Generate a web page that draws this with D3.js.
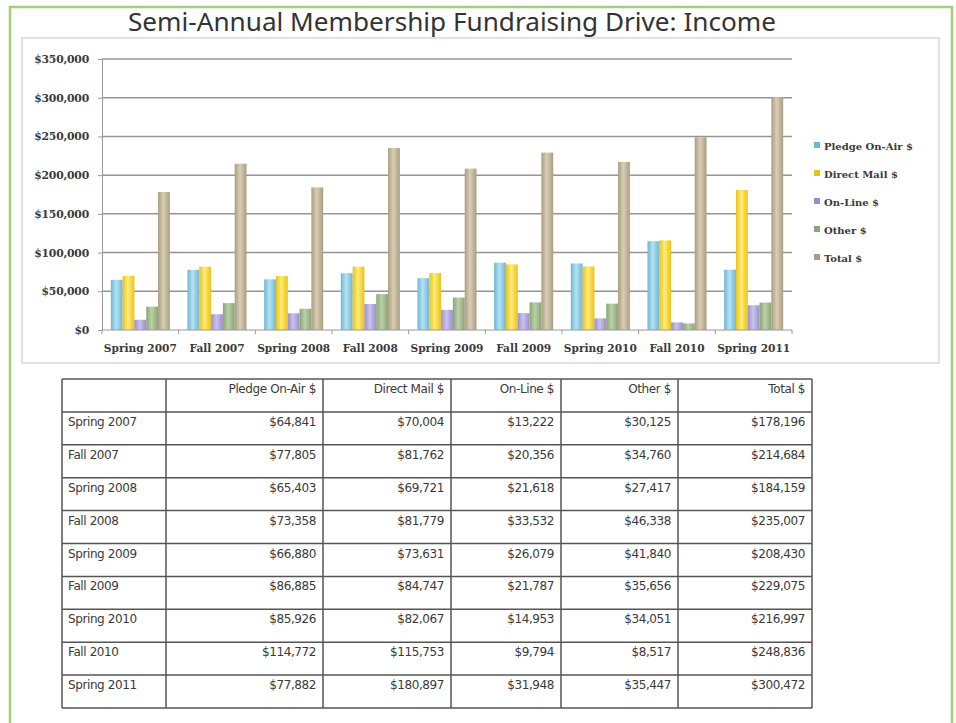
<!DOCTYPE html>
<html>
<head>
<meta charset="utf-8">
<script src="https://cdn.jsdelivr.net/npm/d3@7"></script>
<style>
  html, body { margin: 0; padding: 0; background: #fff; }
  svg { display: block; }
</style>
</head>
<body>
<div id="chart"></div>
<script>
const categories = ['Spring 2007', 'Fall 2007', 'Spring 2008', 'Fall 2008', 'Spring 2009',
  'Fall 2009', 'Spring 2010', 'Fall 2010', 'Spring 2011'];
const seriesNames = ['Pledge On-Air $', 'Direct Mail $', 'On-Line $', 'Other $', 'Total $'];
const pledgeOnAir = [64841, 77805, 65403, 73358, 66880, 86885, 85926, 114772, 77882];
const directMail = [70004, 81762, 69721, 81779, 73631, 84747, 82067, 115753, 180897];
const onLine = [13222, 20356, 21618, 33532, 26079, 21787, 14953, 9794, 31948];
const other = [30125, 34760, 27417, 46338, 41840, 35656, 34051, 8517, 35447];
const total = [178196, 214684, 184159, 235007, 208430, 229075, 216997, 248836, 300472];
const yTicks = [0, 50000, 100000, 150000, 200000, 250000, 300000, 350000];

const seriesValues = [pledgeOnAir, directMail, onLine, other, total];
const colors = [
  ['#b4e2f2', '#6db6d6'],
  ['#fcec78', '#ecc216'],
  ['#cac2ee', '#9a8fca'],
  ['#bccfa8', '#8aa576'],
  ['#d8ceb8', '#ab9d7e']
];

const width = 956, height = 723;
const svg = d3.select('#chart').append('svg')
  .attr('width', width)
  .attr('height', height);

const defs = svg.append('defs');
colors.forEach((c, i) => {
  const g = defs.append('linearGradient')
    .attr('id', 'grad' + i)
    .attr('x1', 0).attr('y1', 0).attr('x2', 1).attr('y2', 0);
  g.append('stop').attr('offset', '0%').attr('stop-color', c[1]);
  g.append('stop').attr('offset', '45%').attr('stop-color', c[0]);
  g.append('stop').attr('offset', '100%').attr('stop-color', c[1]);
});

// outer frame
svg.append('rect')
  .attr('x', 10).attr('y', 7)
  .attr('width', 942).attr('height', 730)
  .attr('fill', 'none')
  .attr('stroke', '#a3cf78')
  .attr('stroke-width', 2.5);

// chart area
svg.append('rect')
  .attr('x', 22).attr('y', 38)
  .attr('width', 917).attr('height', 325)
  .attr('fill', '#fff')
  .attr('stroke', '#cfcfcf')
  .attr('stroke-width', 1.2);

svg.append('text')
  .attr('x', 452).attr('y', 31)
  .attr('text-anchor', 'middle')
  .attr('font-family', 'Noto Sans, sans-serif')
  .attr('font-size', 25)
  .attr('fill', '#333')
  .attr('textLength', 648)
  .attr('lengthAdjust', 'spacingAndGlyphs')
  .text('Semi-Annual Membership Fundraising Drive: Income');

const plot = { left: 102, right: 792, top: 59, bottom: 330 };

const x0 = d3.scaleBand()
  .domain(categories)
  .range([plot.left, plot.right])
  .paddingInner(0.23)
  .paddingOuter(0.115);
const x1 = d3.scaleBand()
  .domain(d3.range(seriesNames.length))
  .range([0, x0.bandwidth()]);
const y = d3.scaleLinear()
  .domain([0, 350000])
  .range([plot.bottom, plot.top]);

const axisFont = 'DejaVu Serif, serif';

// gridlines
svg.append('g')
  .selectAll('line')
  .data(yTicks.filter(d => d > 0))
  .join('line')
  .attr('x1', plot.left).attr('x2', plot.right)
  .attr('y1', d => y(d)).attr('y2', d => y(d))
  .attr('stroke', '#959595')
  .attr('stroke-width', 1.5);

// y axis
const yAxis = svg.append('g')
  .attr('transform', `translate(${plot.left},0)`)
  .call(d3.axisLeft(y).tickValues(yTicks).tickSize(4).tickPadding(9)
    .tickFormat(d => '$' + d3.format(',')(d)));
yAxis.select('.domain').attr('stroke', '#999');
yAxis.selectAll('line').attr('stroke', '#999');
yAxis.selectAll('text')
  .attr('font-family', axisFont)
  .attr('font-weight', 'bold')
  .attr('font-size', 10.8)
  .attr('letter-spacing', -0.2)
  .attr('fill', '#3a3a3a');

// bars
const groups = svg.append('g')
  .selectAll('g')
  .data(categories)
  .join('g')
  .attr('transform', d => `translate(${x0(d)},0)`);

groups.selectAll('rect')
  .data((d, i) => seriesValues.map((s, k) => ({ k, v: s[i] })))
  .join('rect')
  .attr('x', d => x1(d.k))
  .attr('y', d => y(d.v))
  .attr('width', x1.bandwidth())
  .attr('height', d => plot.bottom - y(d.v))
  .attr('fill', d => `url(#grad${d.k})`);

// x axis
const xAxis = svg.append('g')
  .attr('transform', `translate(0,${plot.bottom})`);
xAxis.append('line')
  .attr('x1', plot.left).attr('x2', plot.right)
  .attr('stroke', '#999').attr('stroke-width', 1.2);
xAxis.selectAll('line.tick')
  .data(d3.range(categories.length + 1))
  .join('line')
  .attr('class', 'tick')
  .attr('x1', i => plot.left + i * x0.step())
  .attr('x2', i => plot.left + i * x0.step())
  .attr('y1', 0).attr('y2', 4)
  .attr('stroke', '#999');
xAxis.selectAll('text')
  .data(categories)
  .join('text')
  .attr('x', d => x0(d) + x0.bandwidth() / 2)
  .attr('y', 22)
  .attr('text-anchor', 'middle')
  .attr('font-family', axisFont)
  .attr('font-weight', 'bold')
  .attr('font-size', 10.6)
  .attr('fill', '#3a3a3a')
  .text(d => d);

// legend
const legend = svg.append('g')
  .selectAll('g')
  .data(seriesNames)
  .join('g')
  .attr('transform', (d, i) => `translate(814,${146 + i * 28})`);
legend.append('rect')
  .attr('x', 0).attr('y', -4)
  .attr('width', 6).attr('height', 6)
  .attr('fill', (d, i) => colors[i][1]);
legend.append('text')
  .attr('x', 10).attr('y', 3.5)
  .attr('font-family', axisFont)
  .attr('font-weight', 'bold')
  .attr('font-size', 10)
  .attr('fill', '#3a3a3a')
  .text(d => d);

// data table
const colEdges = [62, 166, 323, 451, 561, 678, 812];
const tableTop = 379, rowH = 32.9;
const fmt = v => '$' + d3.format(',')(v);
const rows = [[''].concat(seriesNames)].concat(
  categories.map((c, i) => [c].concat(seriesValues.map(s => fmt(s[i])))));

const table = svg.append('g');
table.selectAll('line.h')
  .data(d3.range(rows.length + 1))
  .join('line')
  .attr('class', 'h')
  .attr('x1', colEdges[0]).attr('x2', colEdges[colEdges.length - 1])
  .attr('y1', i => tableTop + i * rowH).attr('y2', i => tableTop + i * rowH)
  .attr('stroke', '#555').attr('stroke-width', 1.5);
table.selectAll('line.v')
  .data(colEdges)
  .join('line')
  .attr('class', 'v')
  .attr('x1', d => d).attr('x2', d => d)
  .attr('y1', tableTop).attr('y2', tableTop + rows.length * rowH)
  .attr('stroke', '#555').attr('stroke-width', 1.5);

const rowG = table.selectAll('g.row')
  .data(rows)
  .join('g')
  .attr('class', 'row')
  .attr('transform', (d, i) => `translate(0,${tableTop + i * rowH + 14})`);
rowG.selectAll('text')
  .data(d => d)
  .join('text')
  .attr('x', (d, j) => j === 0 ? colEdges[0] + 6 : colEdges[j + 1] - 7)
  .attr('text-anchor', (d, j) => j === 0 ? 'start' : 'end')
  .attr('font-family', 'DejaVu Sans, sans-serif')
  .attr('font-size', 12)
  .attr('letter-spacing', -0.4)
  .attr('fill', '#3a3a3a')
  .text(d => d);
</script>
</body>
</html>
